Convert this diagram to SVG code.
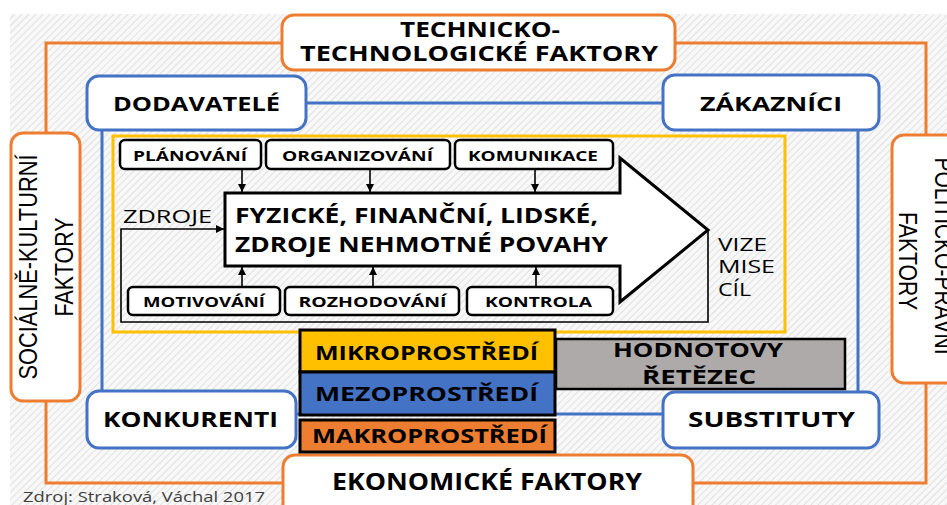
<svg xmlns="http://www.w3.org/2000/svg" width="947" height="505" viewBox="0 0 947 505">
<defs>
<pattern id="hatch" width="5" height="5" patternUnits="userSpaceOnUse" patternTransform="rotate(45)">
<rect width="5" height="5" fill="#f8f8f8"/>
<line x1="0" y1="0" x2="0" y2="5" stroke="#dcdcdc" stroke-width="1.6"/>
</pattern>
<marker id="ah" viewBox="0 0 10 10" refX="10" refY="5" markerWidth="8" markerHeight="8" markerUnits="userSpaceOnUse" orient="auto">
<path d="M0,0 L10,5 L0,10 Z" fill="#000"/>
</marker>
<style>
.b{font-family:"Open Sans","DejaVu Sans",sans-serif;font-weight:700;fill:#000;text-anchor:middle}
.r{font-family:"Open Sans","DejaVu Sans",sans-serif;font-weight:400;fill:#000}
.a{font-family:"Liberation Sans",Arial,sans-serif;font-weight:400;fill:#000;text-anchor:middle}
.or{fill:#fff;stroke:#ED7D31;stroke-width:3}
.bl{fill:#fff;stroke:#4472C4;stroke-width:3}
.sm{fill:#fff;stroke:#000;stroke-width:2.5}
.ln{fill:none;stroke:#000;stroke-width:1.6}
</style>
</defs>
<rect width="947" height="505" fill="#fff"/>
<rect x="10" y="14" width="937" height="491" fill="url(#hatch)"/>

<g id="connectors">
<rect x="46" y="43" width="880" height="440" fill="none" stroke="#ED7D31" stroke-width="3"/>
<rect x="102" y="103" width="756" height="311" fill="none" stroke="#4472C4" stroke-width="3"/>
<rect x="113" y="136" width="672" height="196" fill="none" stroke="#FFC000" stroke-width="3"/>
<path class="ln" d="M708,230 V322 H121 V229 H224" marker-end="url(#ah)"/>
<line class="ln" x1="242" y1="170" x2="242" y2="192" marker-end="url(#ah)"/>
<line class="ln" x1="370" y1="170" x2="370" y2="192" marker-end="url(#ah)"/>
<line class="ln" x1="535" y1="170" x2="535" y2="192" marker-end="url(#ah)"/>
<line class="ln" x1="242" y1="287" x2="242" y2="267" marker-end="url(#ah)"/>
<line class="ln" x1="373" y1="287" x2="373" y2="267" marker-end="url(#ah)"/>
<line class="ln" x1="536" y1="287" x2="536" y2="267" marker-end="url(#ah)"/>
</g>

<g id="technicko">
<rect class="or" x="282" y="15" width="393" height="55" rx="12"/>
<text class="b" x="480" y="37" font-size="21" textLength="160" lengthAdjust="spacingAndGlyphs">TECHNICKO-</text>
<text class="b" x="479" y="61" font-size="21" textLength="358" lengthAdjust="spacingAndGlyphs">TECHNOLOGICKÉ FAKTORY</text>
</g>

<g id="socialne">
<rect class="or" x="11" y="133" width="69" height="268" rx="12"/>
<text class="a" transform="translate(37,267) rotate(-90) scale(1,1.2)" font-size="22" textLength="225" lengthAdjust="spacingAndGlyphs">SOCIÁLNĚ-KULTURNÍ</text>
<text class="a" transform="translate(73,267) rotate(-90) scale(1,1.2)" font-size="22" textLength="99" lengthAdjust="spacingAndGlyphs">FAKTORY</text>
</g>

<g id="politicko">
<rect class="or" x="892" y="135" width="70" height="248" rx="12"/>
<text class="a" transform="translate(935,256) rotate(90) scale(1,1.2)" font-size="22" textLength="197" lengthAdjust="spacingAndGlyphs">POLITICKO-PRÁVNÍ</text>
<text class="a" transform="translate(899,261) rotate(90) scale(1,1.2)" font-size="22" textLength="98" lengthAdjust="spacingAndGlyphs">FAKTORY</text>
</g>

<g id="ekonomicke">
<rect class="or" x="283" y="455" width="410" height="70" rx="12"/>
<text class="b" x="487" y="490" font-size="23" textLength="310" lengthAdjust="spacingAndGlyphs">EKONOMICKÉ FAKTORY</text>
</g>

<g id="dodavatele">
<rect class="bl" x="87" y="76" width="219" height="54" rx="12"/>
<text class="b" x="196.5" y="111" font-size="20" textLength="167" lengthAdjust="spacingAndGlyphs">DODAVATELÉ</text>
</g>
<g id="zakaznici">
<rect class="bl" x="663" y="75" width="216" height="55" rx="12"/>
<text class="b" x="771" y="111" font-size="20" textLength="142" lengthAdjust="spacingAndGlyphs">ZÁKAZNÍCI</text>
</g>
<g id="konkurenti">
<rect class="bl" x="87" y="391" width="209" height="57" rx="12"/>
<text class="b" x="190.5" y="427" font-size="21" textLength="175" lengthAdjust="spacingAndGlyphs">KONKURENTI</text>
</g>
<g id="substituty">
<rect class="bl" x="663" y="392" width="216" height="56" rx="12"/>
<text class="b" x="771.5" y="427" font-size="21" textLength="167" lengthAdjust="spacingAndGlyphs">SUBSTITUTY</text>
</g>

<g id="planovani">
<rect class="sm" x="120" y="140" width="141" height="29" rx="5"/>
<text class="b" x="190" y="161" font-size="15" textLength="114" lengthAdjust="spacingAndGlyphs">PLÁNOVÁNÍ</text>
</g>
<g id="organizovani">
<rect class="sm" x="266" y="140" width="184" height="29" rx="5"/>
<text class="b" x="357.5" y="161" font-size="15" textLength="151" lengthAdjust="spacingAndGlyphs">ORGANIZOVÁNÍ</text>
</g>
<g id="komunikace">
<rect class="sm" x="455" y="140" width="158" height="29" rx="5"/>
<text class="b" x="533" y="161" font-size="15" textLength="130" lengthAdjust="spacingAndGlyphs">KOMUNIKACE</text>
</g>

<g id="zdroje">
<path d="M225,193 H620 V158 L708,230 L620,302 V266 H225 Z" fill="#fff" stroke="#000" stroke-width="3" stroke-linejoin="miter"/>
<text class="b" x="416.5" y="223" font-size="21" textLength="363" lengthAdjust="spacingAndGlyphs">FYZICKÉ, FINANČNÍ, LIDSKÉ,</text>
<text class="b" x="421.5" y="252" font-size="21" textLength="373" lengthAdjust="spacingAndGlyphs">ZDROJE NEHMOTNÉ POVAHY</text>
</g>

<g id="motivovani">
<rect class="sm" x="128" y="287" width="152" height="28" rx="5"/>
<text class="b" x="204" y="307" font-size="15" textLength="122" lengthAdjust="spacingAndGlyphs">MOTIVOVÁNÍ</text>
</g>
<g id="rozhodovani">
<rect class="sm" x="285" y="287" width="174" height="28" rx="5"/>
<text class="b" x="372.5" y="307" font-size="15" textLength="148" lengthAdjust="spacingAndGlyphs">ROZHODOVÁNÍ</text>
</g>
<g id="kontrola">
<rect class="sm" x="467" y="287" width="146" height="28" rx="5"/>
<text class="b" x="538.5" y="307" font-size="15" textLength="107" lengthAdjust="spacingAndGlyphs">KONTROLA</text>
</g>

<g id="labels">
<text class="r" x="123" y="223" font-size="18" textLength="89" lengthAdjust="spacingAndGlyphs">ZDROJE</text>
<text class="r" x="718" y="251" font-size="18" textLength="49" lengthAdjust="spacingAndGlyphs">VIZE</text>
<text class="r" x="718" y="273" font-size="18" textLength="57" lengthAdjust="spacingAndGlyphs">MISE</text>
<text class="r" x="718" y="296" font-size="18" textLength="33" lengthAdjust="spacingAndGlyphs">CÍL</text>
</g>

<g id="hodnotovy">
<rect x="556" y="339" width="289" height="50" fill="#AEAAAA" stroke="#000" stroke-width="2.5"/>
<text class="b" x="698" y="357" font-size="20" font-weight="600" textLength="170" lengthAdjust="spacingAndGlyphs">HODNOTOVY</text>
<text class="b" x="699" y="384" font-size="20" font-weight="600" textLength="114" lengthAdjust="spacingAndGlyphs">ŘETĚZEC</text>
</g>

<g id="mikro">
<rect x="300" y="330" width="255" height="42" fill="#FFC000" stroke="#000" stroke-width="3"/>
<text class="b" x="426.5" y="360" font-size="20" textLength="223" lengthAdjust="spacingAndGlyphs">MIKROPROSTŘEDÍ</text>
</g>
<g id="mezo">
<rect x="300" y="372" width="255" height="43" fill="#4472C4" stroke="#000" stroke-width="3"/>
<text class="b" x="426.5" y="401" font-size="20" textLength="223" lengthAdjust="spacingAndGlyphs">MEZOPROSTŘEDÍ</text>
</g>
<g id="makro">
<rect x="300" y="420" width="255" height="32" fill="#ED7D31" stroke="#000" stroke-width="3"/>
<text class="b" x="429.5" y="443" font-size="20" textLength="235" lengthAdjust="spacingAndGlyphs">MAKROPROSTŘEDÍ</text>
</g>

<text x="23" y="502" font-family="'Open Sans','DejaVu Sans',sans-serif" font-size="15" fill="#404040" textLength="242" lengthAdjust="spacingAndGlyphs">Zdroj: Straková, Váchal 2017</text>
</svg>
